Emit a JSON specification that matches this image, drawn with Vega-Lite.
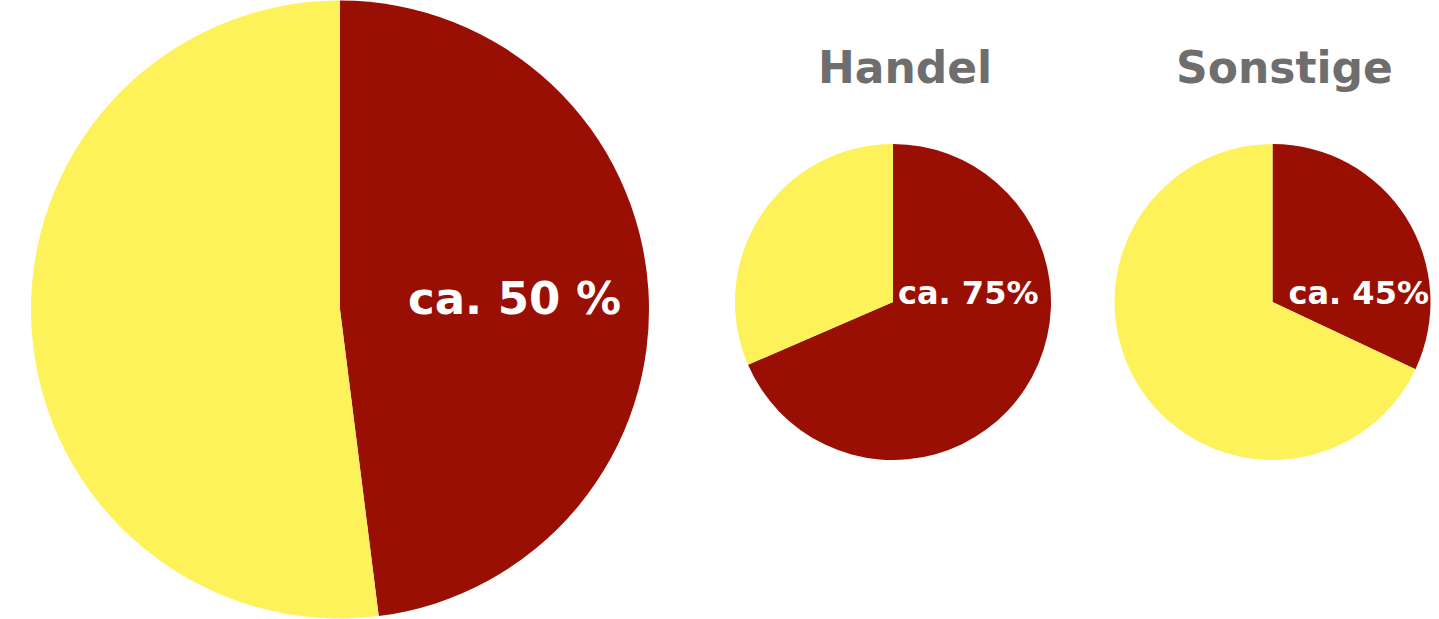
{
  "$schema": "https://vega.github.io/schema/vega-lite/v6.json",
  "padding": 0,
  "background": "white",
  "config": {
    "view": {"stroke": null},
    "concat": {"spacing": 48},
    "title": {
      "font": "DejaVu Sans",
      "fontSize": 44,
      "fontWeight": "bold",
      "color": "#6e6e6e",
      "baseline": "alphabetic",
      "anchor": "middle",
      "frame": "group",
      "offset": -92,
      "dx": 12
    }
  },
  "data": {
    "values": [
      {"pie": "Gesamt", "part": "dark", "value": 48, "label": "ca. 50 %"},
      {"pie": "Gesamt", "part": "light", "value": 52, "label": ""},
      {"pie": "Handel", "part": "dark", "value": 68.5, "label": "ca. 75%"},
      {"pie": "Handel", "part": "light", "value": 31.5, "label": ""},
      {"pie": "Sonstige", "part": "dark", "value": 32, "label": "ca. 45%"},
      {"pie": "Sonstige", "part": "light", "value": 68, "label": ""}
    ]
  },
  "hconcat": [
    {
      "width": 680,
      "height": 619,
      "transform": [{"filter": "datum.pie === 'Gesamt'"}],
      "layer": [
        {
          "mark": {"type": "arc", "outerRadius": 309},
          "encoding": {
            "theta": {"field": "value", "type": "quantitative", "stack": true},
            "order": {"field": "part", "sort": "ascending"},
            "color": {"field": "part", "type": "nominal", "scale": {"domain": ["dark", "light"], "range": ["#990f03", "#fdf25a"]}, "legend": null}
          }
        },
        {
          "transform": [{"filter": "datum.part === 'dark'"}],
          "mark": {"type": "text", "font": "DejaVu Sans", "fontWeight": "bold", "fontSize": 45, "color": "white", "align": "left", "baseline": "middle", "dx": 68, "dy": -10},
          "encoding": {"text": {"field": "label"}}
        }
      ]
    },
    {
      "title": "Handel",
      "width": 330,
      "height": 604,
      "transform": [{"filter": "datum.pie === 'Handel'"}],
      "layer": [
        {
          "mark": {"type": "arc", "outerRadius": 158},
          "encoding": {
            "theta": {"field": "value", "type": "quantitative", "stack": true},
            "order": {"field": "part", "sort": "ascending"},
            "color": {"field": "part", "type": "nominal", "scale": {"domain": ["dark", "light"], "range": ["#990f03", "#fdf25a"]}, "legend": null}
          }
        },
        {
          "transform": [{"filter": "datum.part === 'dark'"}],
          "mark": {"type": "text", "font": "DejaVu Sans", "fontWeight": "bold", "fontSize": 32, "color": "white", "align": "left", "baseline": "middle", "dx": 5, "dy": -8},
          "encoding": {"text": {"field": "label"}}
        }
      ]
    },
    {
      "title": "Sonstige",
      "width": 333,
      "height": 604,
      "transform": [{"filter": "datum.pie === 'Sonstige'"}],
      "layer": [
        {
          "mark": {"type": "arc", "outerRadius": 158},
          "encoding": {
            "theta": {"field": "value", "type": "quantitative", "stack": true},
            "order": {"field": "part", "sort": "ascending"},
            "color": {"field": "part", "type": "nominal", "scale": {"domain": ["dark", "light"], "range": ["#990f03", "#fdf25a"]}, "legend": null}
          }
        },
        {
          "transform": [{"filter": "datum.part === 'dark'"}],
          "mark": {"type": "text", "font": "DejaVu Sans", "fontWeight": "bold", "fontSize": 32, "color": "white", "align": "left", "baseline": "middle", "dx": 16, "dy": -8},
          "encoding": {"text": {"field": "label"}}
        }
      ]
    }
  ]
}
